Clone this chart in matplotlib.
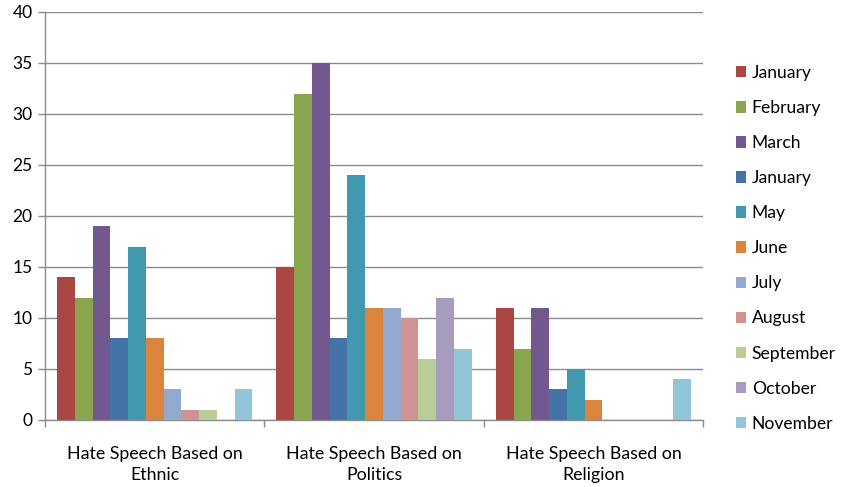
import matplotlib
matplotlib.use("Agg")
import matplotlib.pyplot as plt
import numpy as np

categories = ["Hate Speech Based on\nEthnic", "Hate Speech Based on\nPolitics", "Hate Speech Based on\nReligion"]
series_names = ["January", "February", "March", "January", "May", "June",
                "July", "August", "September", "October", "November"]
values = {
    0: [14, 15, 11],
    1: [12, 32, 7],
    2: [19, 35, 11],
    3: [8, 8, 3],
    4: [17, 24, 5],
    5: [8, 11, 2],
    6: [3, 11, 0],
    7: [1, 10, 0],
    8: [1, 6, 0],
    9: [0, 12, 0],
    10: [3, 7, 4],
}
colors = ["#AA4643", "#89A54E", "#71588F", "#4572A7", "#4198AF", "#DB843D",
          "#93A9CF", "#D19392", "#B9CD96", "#A99BBD", "#92C5D8"]

plt.rcParams["font.family"] = ["Lato", "DejaVu Sans"]

fig = plt.figure(figsize=(8.41, 4.87), dpi=100)
ax = fig.add_axes([0.0535, 0.1376, 0.7825, 0.8378])

n = len(series_names)
group = 0.89
w = group / n
x = np.arange(len(categories))
handles = []
for i in range(n):
    pos = x - group / 2 + w * (i + 0.5)
    h = ax.bar(pos, values[i], width=w, color=colors[i], label=series_names[i],
               zorder=3, linewidth=0)
    handles.append(h)

ax.set_xlim(-0.5, len(categories) - 0.5)
ax.set_ylim(0, 40)
ax.set_yticks(range(0, 41, 5))
ax.yaxis.grid(True, color="#8C8C8C", linewidth=1.0, zorder=0)
ax.set_axisbelow(True)

ax.set_xticks(x)
ax.set_xticklabels(categories, fontsize=12.8, linespacing=1.35)
ax.tick_params(axis="x", length=0, pad=19)
ax.set_xticks(np.arange(-0.5, len(categories)), minor=True)
ax.tick_params(axis="x", which="minor", length=5, color="#8C8C8C", width=1)
ax.tick_params(axis="y", length=5, color="#8C8C8C", width=1, labelsize=12.5, pad=4)

for s in ["top", "right"]:
    ax.spines[s].set_visible(False)
for s in ["left", "bottom"]:
    ax.spines[s].set_color("#8C8C8C")
    ax.spines[s].set_linewidth(1.0)

fig.legend(handles=handles, labels=series_names, loc="upper left",
           bbox_to_anchor=(0.8664, 0.881), frameon=False, fontsize=12.6,
           handlelength=0.62, handleheight=0.62, handletextpad=0.3,
           labelspacing=1.09, borderaxespad=0)

fig.savefig("out.png", dpi=100)
